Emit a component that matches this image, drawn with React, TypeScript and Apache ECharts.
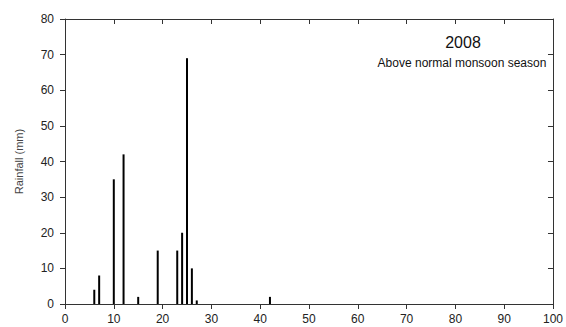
import React, { useEffect, useRef } from "react";
import * as echarts from "echarts";

const days = [6, 7, 10, 12, 15, 19, 23, 24, 25, 26, 27, 42];
const rainfall = [4, 8, 35, 42, 2, 15, 15, 20, 69, 10, 1, 2];
const yearLabel = "2008";
const seasonLabel = "Above normal monsoon season";
const yAxisTitle = "Rainfall (mm)";

export default function App() {
  const ref = useRef<HTMLDivElement>(null);
  useEffect(() => {
    if (!ref.current) return;
    const chart = echarts.init(ref.current, null, { renderer: "svg" });
    const axisColor = "#333";
    const font = "Liberation Sans, Arial, sans-serif";
    chart.setOption({
      animation: false,
      backgroundColor: "#fff",
      grid: { left: 65, right: 10, top: 19, bottom: 23 },
      xAxis: [
        {
          type: "value",
          min: 0,
          max: 100,
          interval: 10,
          position: "bottom",
          axisLine: { show: true, onZero: false, lineStyle: { color: axisColor, width: 1 } },
          axisTick: { show: true, inside: false, length: 5, lineStyle: { color: axisColor } },
          axisLabel: { color: "#222", fontSize: 12, fontFamily: font, margin: 9 },
          splitLine: { show: false },
        },
        {
          type: "value",
          min: 0,
          max: 100,
          interval: 10,
          position: "top",
          axisLine: { show: true, onZero: false, lineStyle: { color: axisColor, width: 1 } },
          axisTick: { show: true, inside: true, length: 5, lineStyle: { color: axisColor } },
          axisLabel: { show: false },
          splitLine: { show: false },
        },
      ],
      yAxis: [
        {
          type: "value",
          min: 0,
          max: 80,
          interval: 10,
          position: "left",
          name: yAxisTitle,
          nameLocation: "middle",
          nameGap: 41,
          nameTextStyle: { color: "#444", fontSize: 11, fontFamily: font },
          axisLine: { show: true, onZero: false, lineStyle: { color: axisColor, width: 1 } },
          axisTick: { show: true, inside: false, length: 5, lineStyle: { color: axisColor } },
          axisLabel: { color: "#222", fontSize: 12, fontFamily: font, margin: 11 },
          splitLine: { show: false },
        },
        {
          type: "value",
          min: 0,
          max: 80,
          interval: 10,
          position: "right",
          axisLine: { show: true, onZero: false, lineStyle: { color: axisColor, width: 1 } },
          axisTick: { show: true, inside: true, length: 5, lineStyle: { color: axisColor } },
          axisLabel: { show: false },
          splitLine: { show: false },
        },
      ],
      graphic: [
        {
          type: "text",
          x: 463,
          y: 42,
          style: {
            text: yearLabel,
            fill: "#111",
            fontSize: 16,
            fontFamily: font,
            textAlign: "center",
            textVerticalAlign: "middle",
          },
        },
        {
          type: "text",
          x: 462,
          y: 63,
          style: {
            text: seasonLabel,
            fill: "#111",
            fontSize: 12,
            fontFamily: font,
            textAlign: "center",
            textVerticalAlign: "middle",
          },
        },
      ],
      series: [
        {
          type: "bar",
          xAxisIndex: 0,
          yAxisIndex: 0,
          barWidth: 2,
          itemStyle: { color: "#000" },
          data: days.map((d, i) => [d, rainfall[i]]),
        },
      ],
    });
    return () => chart.dispose();
  }, []);
  return <div ref={ref} style={{ width: 566, height: 327, position: "absolute", left: 0, top: 0 }} />;
}
